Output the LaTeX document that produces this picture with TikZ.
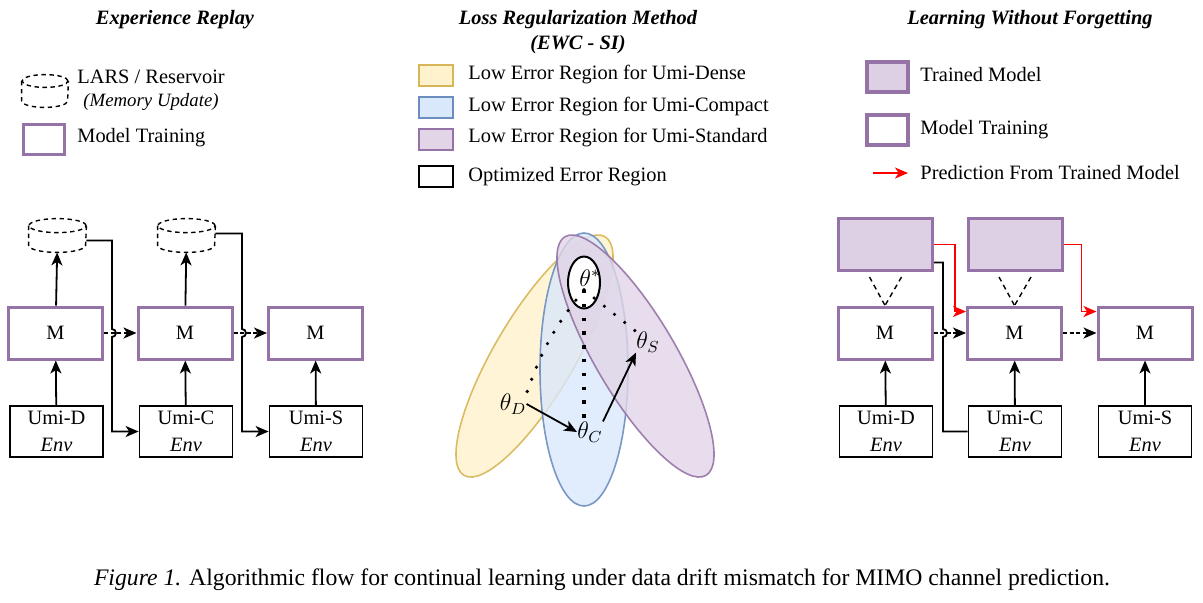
\documentclass[tikz,border=0pt]{standalone}
\usepackage{fontspec}
\setmainfont{Liberation Serif}
\usetikzlibrary{calc}
\usetikzlibrary{shapes.geometric}
\usetikzlibrary{arrows.meta}

\definecolor{modelPurple}{HTML}{9673A6}
\definecolor{trainedFill}{HTML}{DDD0E5}
\definecolor{denseLine}{HTML}{D6B656}
\definecolor{denseFill}{HTML}{FFF2CC}
\definecolor{compactLine}{HTML}{6C8EBF}
\definecolor{compactFill}{HTML}{DAE8FC}
\definecolor{standardLine}{HTML}{9673A6}
\definecolor{standardFill}{HTML}{E1D5E7}

% dashed cylinder round a named node: #1 node, #2 half width, #3 end radius
\newcommand{\drawmemory}[3]{%
	\draw[memline] ($(#1.north)+(0,-#3)$) ellipse [x radius=#2, y radius=#3];
	\draw[memline] ($(#1.north west)+(0,-#3)$) -- ($(#1.south west)+(0,#3)$) arc[start angle=180, end angle=360, x radius=#2, y radius=#3] -- ($(#1.north east)+(0,-#3)$);
}

\begin{document}
\begin{tikzpicture}[x=0.5pt, y=-0.5pt,
	txt/.style={inner sep=0pt, font=\fontsize{10.2}{12.5}\selectfont},
	title/.style={txt, font=\fontsize{10.2}{12.5}\selectfont\bfseries\itshape},
	keytext/.style={txt, anchor=west},
	param/.style={inner sep=0pt, font=\fontsize{11.5}{13}\selectfont},
	model/.style={txt, draw=modelPurple, line width=1.5pt, minimum width=47pt, minimum height=26pt},
	trained/.style={model, fill=trainedFill},
	env/.style={txt, draw, line width=0.9pt, minimum width=46.5pt, minimum height=25.5pt, align=center},
	memory/.style={inner sep=0pt, minimum width=28.5pt, minimum height=16.5pt},
	memline/.style={line width=0.7pt, dash pattern=on 2.2pt off 1.8pt},
	flow/.style={-{Stealth[length=6.5pt, width=5.5pt, inset=1.8pt]}, line width=0.9pt},
	pass/.style={flow, dash pattern=on 2pt off 1.3pt},
	predict/.style={flow, draw=red},
	hint/.style={line width=0.7pt, dash pattern=on 2.5pt off 2pt},
	region/.style={line width=0.8pt, fill opacity=0.8, draw opacity=0.9},
	key/.style={draw, line width=1pt, minimum width=17pt, minimum height=10.5pt, inner sep=0pt}
]

\useasboundingbox (0,0) rectangle (1203,602);

% Titles.

	\node[title] (titleReplay) at (175,20) {Experience Replay};
	\node[title, align=center] (titleLoss) at (578,32) {Loss Regularization Method\\(EWC - SI)};
	\node[title] (titleLwf) at (1030,20) {Learning Without Forgetting};

% Legends.

	%experience replay
	\node[memory, minimum width=23pt, minimum height=16pt] (keyMemory) at (45,91) {};
	\drawmemory{keyMemory}{11.5pt}{3.2pt}
	\node[keytext] at (77,77) {LARS / Reservoir};
	\node[keytext, font=\fontsize{9.4}{11}\selectfont\itshape] at (83,102) {(Memory Update)};
	\node[key, draw=modelPurple, line width=1.5pt, minimum width=20.5pt, minimum height=15pt] (keyModelL) at (43.5,139) {};
	\node[keytext] at (77,138) {Model Training};

	%loss regularization
	\node[key, draw=denseLine, fill=denseFill] (keyDense) at (436,75.5) {};
	\node[key, draw=compactLine, fill=compactFill] (keyCompact) at (436,107.5) {};
	\node[key, draw=standardLine, fill=standardFill] (keyStandard) at (436,139) {};
	\node[key] (keyOpt) at (436,176.5) {};
	\node[keytext] at (468,75) {Low Error Region for Umi-Dense};
	\node[keytext] at (468,107) {Low Error Region for Umi-Compact};
	\node[keytext] at (468,138) {Low Error Region for Umi-Standard};
	\node[keytext] at (468,177) {Optimized Error Region};

	%learning without forgetting
	\node[key, draw=modelPurple, fill=trainedFill, line width=2pt, minimum width=20.5pt, minimum height=15pt] (keyTrained) at (887.5,77) {};
	\node[key, draw=modelPurple, line width=2pt, minimum width=20.5pt, minimum height=15pt] (keyModelR) at (887.5,130) {};
	\coordinate (keyRedTail) at (873,173);
	\coordinate (keyRedHead) at (908,173);
	\draw[predict] (keyRedTail) -- (keyRedHead);
	\node[keytext] at (920,75) {Trained Model};
	\node[keytext] at (920,130) {Model Training};
	\node[keytext] at (920,173) {Prediction From Trained Model};

% Experience replay.

	\node[memory] (memD) at (57.5,235.5) {};
	\node[memory] (memC) at (186.5,235.5) {};
	\drawmemory{memD}{14.25pt}{3.5pt}
	\drawmemory{memC}{14.25pt}{3.5pt}

	\node[model] (erD) at (55.5,333) {M};
	\node[model] (erC) at (185,333) {M};
	\node[model] (erS) at (315.5,333) {M};

	\node[env] (envD) at (56.5,431.5) {Umi-D\\[1pt]\textit{Env}};
	\node[env] (envC) at (186,431.5) {Umi-C\\[1pt]\textit{Env}};
	\node[env] (envS) at (316,431.5) {Umi-S\\[1pt]\textit{Env}};

	\coordinate (hopD) at (112,333);
	\coordinate (hopC) at (242,333);

	\draw[flow] (envD) -- (erD);
	\draw[flow] (envC) -- (erC);
	\draw[flow] (envS) -- (erS);
	\draw[flow] (erD) -- (memD);
	\draw[flow] (erC) -- (memC);

	\draw[flow] ($(memD.east)+(0,5)$) -| ($(hopD)+(0,-4)$) arc[start angle=90, end angle=-90, radius=2pt] |- (envC.west);
	\draw[flow] ($(memC.east)+(0,-2)$) -| ($(hopC)+(0,-4)$) arc[start angle=90, end angle=-90, radius=2pt] |- (envS.west);

	\draw[pass] (erD) -- (erC);
	\draw[pass] (erC) -- (erS);

% Loss regularization.

	\draw[region, draw=denseLine, fill=denseFill, rotate around={59.4:(534.5,356)}] (534.5,356) ellipse [x radius=69.3pt, y radius=20pt];
	\draw[region, draw=compactLine, fill=compactFill] (584,369.5) ellipse [x radius=22pt, y radius=68.25pt];
	\draw[region, draw=standardLine, fill=standardFill, rotate around={-59.4:(635.5,356)}] (635.5,356) ellipse [x radius=69.3pt, y radius=20pt];

	\node[draw, ellipse, fill=white, line width=1pt, minimum width=16pt, minimum height=26pt, inner sep=0pt] (optRegion) at (584,282.5) {};
	\node[param] (thetaStar) at (590,278) {$\theta^*$};
	\coordinate (optPoint) at (584,290);

	\node[param] (thetaD) at (513,404) {$\theta_D$};
	\node[param] (thetaC) at (590,432) {$\theta_C$};
	\node[param] (thetaS) at (648,342) {$\theta_S$};

	\draw[line width=1.7pt, dash pattern=on 1.7pt off 5.2pt] (optPoint) -- (optPoint |- thetaC.north);
	\draw[line width=1.8pt, line cap=round, dash pattern=on 0pt off 6.5pt] (optPoint) to[bend right=10] (thetaD.north east);
	\draw[line width=1.8pt, line cap=round, dash pattern=on 0pt off 6.5pt] (optPoint) -- (thetaS.north west);

	\draw[flow] (thetaD.east) -- (thetaC.west);
	\draw[flow] (thetaC.north east) -- (thetaS.south west);

% Learning without forgetting.

	\node[trained] (oldD) at (885.5,244.5) {};
	\node[trained] (oldC) at (1015,244.5) {};

	\node[model] (lwfD) at (885,333) {M};
	\node[model] (lwfC) at (1014.5,333) {M};
	\node[model] (lwfS) at (1145,333) {M};

	\node[env] (srcD) at (886,431.5) {Umi-D\\[1pt]\textit{Env}};
	\node[env] (srcC) at (1015,431.5) {Umi-C\\[1pt]\textit{Env}};
	\node[env] (srcS) at (1145,431.5) {Umi-S\\[1pt]\textit{Env}};

	\coordinate (hopL) at (943,333);

	\draw[hint] ($(oldD.south)+(-16,5)$) -- (lwfD.north);
	\draw[hint] ($(oldD.south)+(16,5)$) -- (lwfD.north);
	\draw[hint] ($(oldC.south)+(-16,5)$) -- (lwfC.north);
	\draw[hint] ($(oldC.south)+(16,5)$) -- (lwfC.north);

	\draw[flow] (srcD) -- (lwfD);
	\draw[flow] (srcC) -- (lwfC);
	\draw[flow] (srcS) -- (lwfS);

	\draw[line width=0.9pt] ($(oldD.east)+(0,18)$) -| ($(hopL)+(0,-4)$) arc[start angle=90, end angle=-90, radius=2pt] |- (srcC.west);

	\draw[predict] (oldD.east) -- ++(21,0) |- ($(lwfC.north west)+(0,6)$);
	\draw[predict] (oldC.east) -- ++(18,0) |- ($(lwfS.north west)+(0,6)$);

	\draw[pass] (lwfD) -- (lwfC);
	\draw[pass] (lwfC) -- (lwfS);

% Caption.

	\node[txt, font=\fontsize{11.85}{14}\selectfont] (caption) at (602,580) {\textit{Figure 1.} Algorithmic flow for continual learning under data drift mismatch for MIMO channel prediction.};

\end{tikzpicture}
\end{document}
